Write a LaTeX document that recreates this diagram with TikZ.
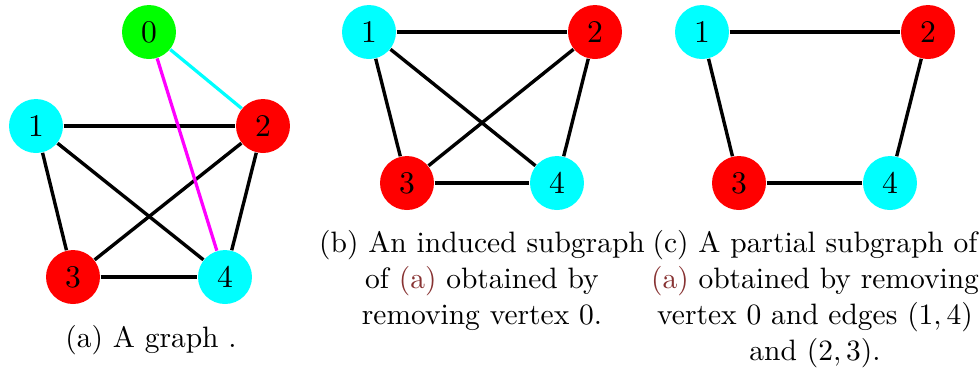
\documentclass[tikz,border=0pt]{standalone}
\usepackage{xcolor}
\definecolor{vgreen}{RGB}{0,255,0}
\definecolor{vcyan}{RGB}{0,255,255}
\definecolor{vred}{RGB}{255,0,0}
\definecolor{vmagenta}{RGB}{255,0,255}
\definecolor{linkred}{RGB}{135,50,50}
\begin{document}
\begin{tikzpicture}[x=0.339pt,y=-0.339pt,
  vtx/.style={circle,minimum size=18.3pt,inner sep=0pt,font=\fontsize{10.7}{12}\selectfont},
  gv/.style={vtx,fill=vgreen},
  cv/.style={vtx,fill=vcyan},
  rv/.style={vtx,fill=vred},
  blink/.style={line width=1.15pt,black},
  captxt/.style={anchor=base,inner sep=0pt,font=\fontsize{10}{12}\selectfont}]
\useasboundingbox (0,0) rectangle (979,369);
% (a)
\node[gv] (a0) at (149,32) {0};
\node[cv] (a1) at (36,126) {1};
\node[rv] (a2) at (263,126) {2};
\node[rv] (a3) at (73,277) {3};
\node[cv] (a4) at (225,277) {4};
\draw[blink] (a1) -- (a2);
\draw[blink] (a1) -- (a3);
\draw[blink] (a1) -- (a4);
\draw[blink] (a2) -- (a3);
\draw[blink] (a2) -- (a4);
\draw[blink] (a3) -- (a4);
\draw[line width=1.1pt,vcyan] (a0) -- (a2);
\draw[line width=1.1pt,vmagenta] (a0) -- (a4);
\node[captxt] (capa) at (151,347) {(a) A graph .};
% (b)
\node[cv] (b1) at (369,32) {1};
\node[rv] (b2) at (595,32) {2};
\node[rv] (b3) at (407,183) {3};
\node[cv] (b4) at (557,183) {4};
\draw[blink] (b1) -- (b2);
\draw[blink] (b1) -- (b3);
\draw[blink] (b1) -- (b4);
\draw[blink] (b2) -- (b3);
\draw[blink] (b2) -- (b4);
\draw[blink] (b3) -- (b4);
\node[captxt] (capb1) at (482,252) {(b) An induced subgraph};
\node[captxt] (capb2) at (482,288) {of \textcolor{linkred}{(a)} obtained by};
\node[captxt] (capb3) at (482,324) {removing vertex 0.};
% (c)
\node[cv] (c1) at (702,32) {1};
\node[rv] (c2) at (928,32) {2};
\node[rv] (c3) at (739,183) {3};
\node[cv] (c4) at (890,183) {4};
\draw[blink] (c1) -- (c2);
\draw[blink] (c1) -- (c3);
\draw[blink] (c2) -- (c4);
\draw[blink] (c3) -- (c4);
\node[captxt] (capc1) at (815,252) {(c) A partial subgraph of};
\node[captxt] (capc2) at (815,288) {\textcolor{linkred}{(a)} obtained by removing};
\node[captxt] (capc3) at (815,324) {vertex 0 and edges $(1,4)$};
\node[captxt] (capc4) at (815,360) {and $(2,3)$.};
\end{tikzpicture}
\end{document}
